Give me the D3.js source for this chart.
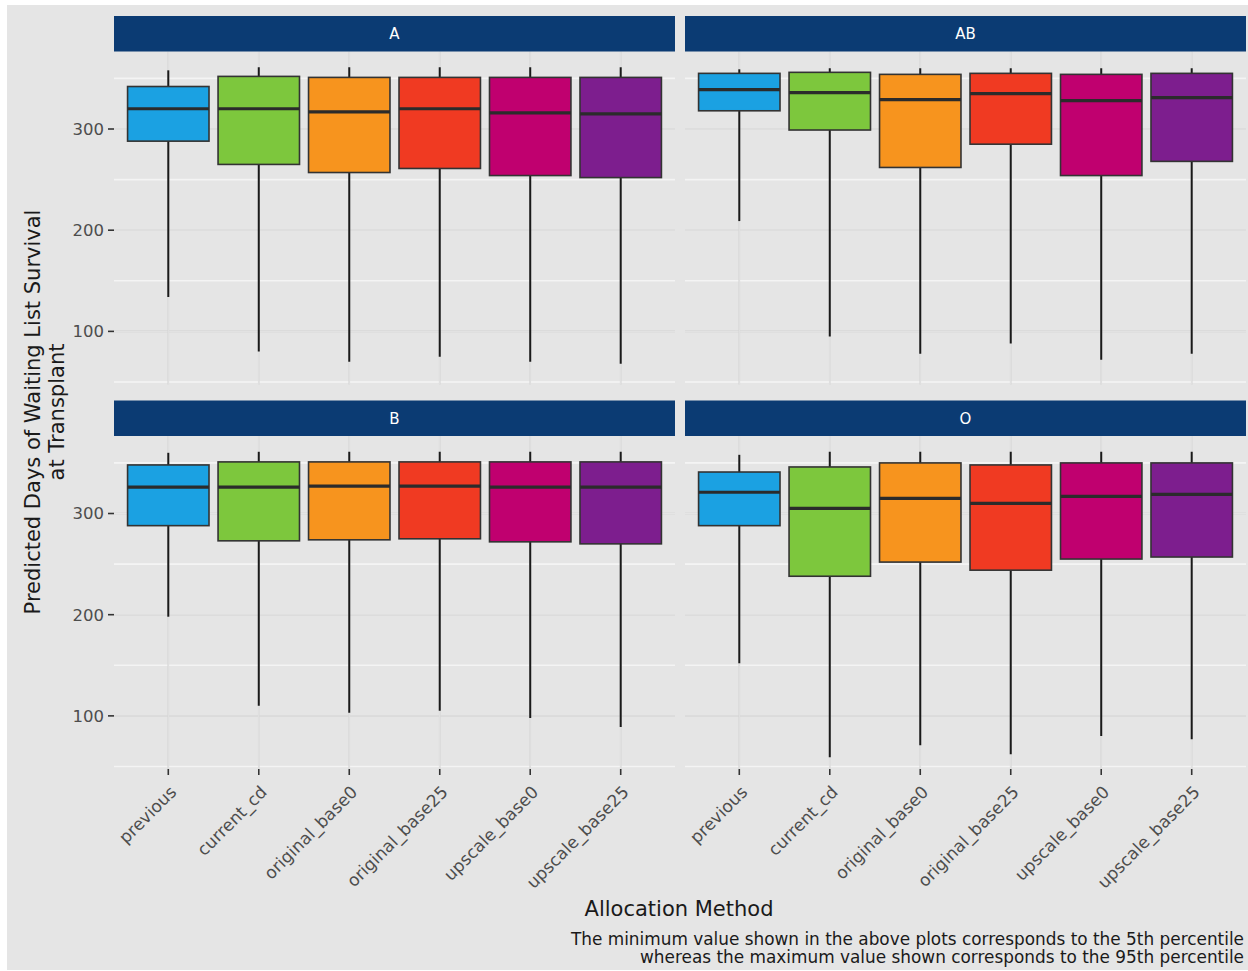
<!DOCTYPE html>
<html>
<head>
<meta charset="utf-8">
<script src="https://cdn.jsdelivr.net/npm/d3@7"></script>
<style>
html,body{margin:0;padding:0;background:#fff;}
svg{display:block;}
text{font-family:"DejaVu Sans",sans-serif;}
</style>
</head>
<body>
<svg id="chart" width="1248" height="971"></svg>
<script>
// ---- data ----
const methods = ["previous","current_cd","original_base0","original_base25","upscale_base0","upscale_base25"];
const bloodGroups = ["A","AB","B","O"];
const colors = ["#1BA1E2","#7DC73D","#F7941E","#F03A22","#C0006F","#7D1E8E"];
const yTicks = [100,200,300];
const yMinorTicks = [50,150,250,350];
// [p5, q1, median, q3, p95] per method
const statsA  = [[134,288,320,342,358],[80,265,320,352,361],[70,257,317,351,361],[75,261,320,351,361],[70,254,316,351,361],[68,252,315,351,361]];
const statsAB = [[209,318,339,355,359],[95,299,336,356,360],[78,262,329,354,360],[88,285,335,355,360],[72,254,328,354,360],[78,268,331,355,360]];
const statsB  = [[198,288,326,348,360],[110,273,326,351,361],[103,274,327,351,361],[105,275,327,351,361],[98,272,326,351,361],[89,270,326,351,361]];
const statsO  = [[152,288,321,341,358],[59,238,305,346,361],[71,252,315,350,361],[62,244,310,348,361],[80,255,317,350,361],[77,257,319,350,361]];
const panelStats = {A:statsA, AB:statsAB, B:statsB, O:statsO};
const yTitle = ["Predicted Days of Waiting List Survival","at Transplant"];
const xTitle = "Allocation Method";
const caption = ["The minimum value shown in the above plots corresponds to the 5th percentile","whereas the maximum value shown corresponds to the 95th percentile"];

// ---- layout ----
const svg = d3.select("#chart");
const bg = "#E5E5E5";
svg.append("rect").attr("x",7).attr("y",5).attr("width",1241).attr("height",965).attr("fill",bg);

const colX = [114, 685], panelW = 561;
const rowY = [51.5, 436], panelH = 333, stripH = 35.5;
const y = d3.scaleLinear().domain([47.5, 376.6]).range([panelH, 0]);
// ggplot discrete expansion: 0.6 units each side
const x = d3.scalePoint().domain(methods).range([0, panelW]).padding(0.6);
const unit = x.step();
const cx = m => x(m);
const boxW = unit*0.9;

bloodGroups.forEach((g, i) => {
  const col = i % 2, row = Math.floor(i/2);
  const px = colX[col], py = rowY[row];
  const G = svg.append("g").attr("transform",`translate(${px},${py})`);
  // strip
  svg.append("rect").attr("x",px).attr("y",py-stripH).attr("width",panelW).attr("height",stripH).attr("fill","#0B3B73");
  svg.append("text").attr("x",px+panelW/2).attr("y",py-stripH/2).attr("dy","0.36em")
     .attr("text-anchor","middle").attr("fill","#ffffff").attr("font-size",15).text(g);
  // grid
  yMinorTicks.forEach(t => G.append("line").attr("x1",0).attr("x2",panelW).attr("y1",y(t)).attr("y2",y(t))
     .attr("stroke","#F4F4F4").attr("stroke-width",1.6));
  yTicks.forEach(t => G.append("line").attr("x1",0).attr("x2",panelW).attr("y1",y(t)).attr("y2",y(t))
     .attr("stroke","#CFCFCF").attr("stroke-width",1.6));
  yTicks.forEach(t => G.append("line").attr("x1",0).attr("x2",panelW).attr("y1",y(t)).attr("y2",y(t))
     .attr("stroke","#F4F4F4").attr("stroke-width",0.6));
  methods.forEach(m => {
    G.append("line").attr("x1",cx(m)).attr("x2",cx(m)).attr("y1",0).attr("y2",panelH)
     .attr("stroke","#CFCFCF").attr("stroke-width",1.6);
    G.append("line").attr("x1",cx(m)).attr("x2",cx(m)).attr("y1",0).attr("y2",panelH)
     .attr("stroke","#F4F4F4").attr("stroke-width",0.6);
  });
  // boxes
  panelStats[g].forEach((s, j) => {
    const m = methods[j], c = cx(m);
    G.append("line").attr("x1",c).attr("x2",c).attr("y1",y(s[0])).attr("y2",y(s[4]))
      .attr("stroke","#1a1a1a").attr("stroke-width",2);
    G.append("rect").attr("x",c-boxW/2).attr("y",y(s[3])).attr("width",boxW).attr("height",y(s[1])-y(s[3]))
      .attr("fill",colors[j]).attr("stroke","#333333").attr("stroke-width",1.6);
    G.append("line").attr("x1",c-boxW/2).attr("x2",c+boxW/2).attr("y1",y(s[2])).attr("y2",y(s[2]))
      .attr("stroke","#2b2b2b").attr("stroke-width",3.2);
  });
  // y axis on left column
  if (col === 0) {
    yTicks.forEach(t => {
      G.append("line").attr("x1",-6).attr("x2",0).attr("y1",y(t)).attr("y2",y(t)).attr("stroke","#333").attr("stroke-width",1.6);
      G.append("text").attr("x",-10).attr("y",y(t)).attr("dy","0.36em").attr("text-anchor","end")
        .attr("fill","#4D4D4D").attr("font-size",16.5).text(t);
    });
  }
  // x axis on bottom row
  if (row === 1) {
    methods.forEach(m => {
      G.append("line").attr("x1",cx(m)).attr("x2",cx(m)).attr("y1",panelH).attr("y2",panelH+6).attr("stroke","#333").attr("stroke-width",1.6);
      G.append("text").attr("transform",`translate(${cx(m)+2},${panelH+17}) rotate(-45)`)
        .attr("text-anchor","end").attr("dy","0.6em").attr("fill","#4D4D4D").attr("font-size",17).text(m);
    });
  }
});

// titles
svg.append("text").attr("transform","translate(40,412) rotate(-90)").attr("text-anchor","middle")
  .attr("font-size",21).attr("fill","#1a1a1a")
  .selectAll("tspan").data(yTitle).join("tspan").attr("x",0).attr("dy",(d,i)=> i===0 ? 0 : "1.12em").text(d=>d);
svg.append("text").attr("x",679).attr("y",916).attr("text-anchor","middle").attr("font-size",21).attr("fill","#1a1a1a").text(xTitle);
svg.append("text").attr("text-anchor","end").attr("font-size",16.9).attr("fill","#1a1a1a")
  .selectAll("tspan").data(caption).join("tspan").attr("x",1244).attr("y",(d,i)=>945+i*18).text(d=>d);
</script>
</body>
</html>
